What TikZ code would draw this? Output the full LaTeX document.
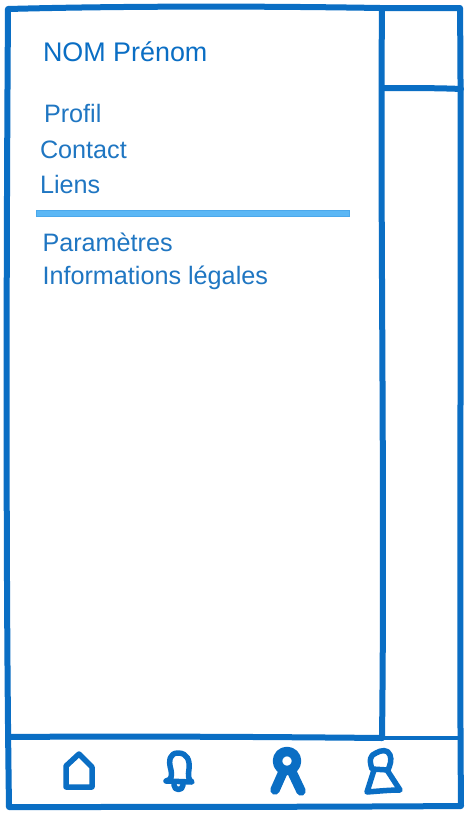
\documentclass[tikz,border=0pt]{standalone}
\usepackage{fontspec}
\setmainfont{Liberation Sans}
\definecolor{sk}{HTML}{0A6EC4}
\definecolor{tx}{HTML}{1F76C2}
\definecolor{barfill}{HTML}{5BB7F5}
\tikzset{
  sketch/.style={draw=sk,line width=6pt,line cap=round,line join=round},
  iconline/.style={draw=sk,line width=5.500pt,line cap=round,line join=round},
  ribbon/.style={draw=sk,line width=9.500pt,line cap=round,line join=round},
  label/.style={anchor=base west,inner sep=0pt,outer sep=0pt,text=tx,font=\fontsize{25.2}{30}\selectfont},
  title/.style={label,text=sk,font=\fontsize{26.9}{32}\selectfont}
}
\begin{document}
\begin{tikzpicture}[x=1pt,y=-1pt]
\useasboundingbox (0,0) rectangle (474,822);
\fill[white] (0,0) rectangle (474,822);
% outer frame
\draw[sketch] (8,9) .. controls (120,6) and (260,6) .. (380,8) .. controls (410,8) and (440,8) .. (460,8)
  .. controls (462,200) and (459,600) .. (461,806)
  .. controls (320,807) and (140,807) .. (9,807)
  .. controls (6,600) and (6,300) .. (8,9) -- cycle;
% inner rules
\draw[sketch] (382,9) .. controls (380,200) and (385,500) .. (382,738);
\draw[sketch] (382,88) .. controls (410,88) and (440,88) .. (461,89);
\draw[sketch] (9,737) .. controls (130,736) and (280,737) .. (382,738);
\draw[sketch,line width=4.500pt] (382,738) -- (460,738);
% texts
\node[title] (nom) at (43,61) {NOM Prénom};
\node[label] (profil) at (44,122) {Profil};
\node[label] (contact) at (40,158) {Contact};
\node[label] (liens) at (40,193) {Liens};
\node[label] (param) at (42.500,251) {Paramètres};
\node[label] (legal) at (42.500,284) {Informations légales};
% separator
\draw[draw=barfill!80!sk,fill=barfill,line width=0.6pt] (36.500,210) rectangle (349.500,216);
% home icon
\draw[iconline] (66,787) -- (66,766) -- (79,754) -- (92,767) -- (92,787) -- cycle;
% bell icon
\draw[iconline] (166,781) .. controls (172,780) and (172,775) .. (171,770)
  .. controls (168,760) and (170,753) .. (178,753)
  .. controls (187,753) and (190,760) .. (189,769)
  .. controls (188,775) and (188,780) .. (192,782) -- cycle;
\draw[iconline] (174,785) .. controls (174,791) and (183,791) .. (183,785);
% ribbon icon
\draw[ribbon] (287,761) circle[radius=9.500];
\draw[ribbon] (283,772) -- (275,790);
\draw[ribbon] (292,772) -- (301,791);
% person icon
\draw[iconline] (372,769) .. controls (369,760) and (370,755) .. (376,753)
  .. controls (381,750) and (388,749) .. (390,755)
  .. controls (392,760) and (390,765) .. (388,770) -- cycle;
\draw[iconline] (374,770) -- (367,792) .. controls (380,791) and (390,790) .. (400,790) -- (387,770);
\end{tikzpicture}
\end{document}
